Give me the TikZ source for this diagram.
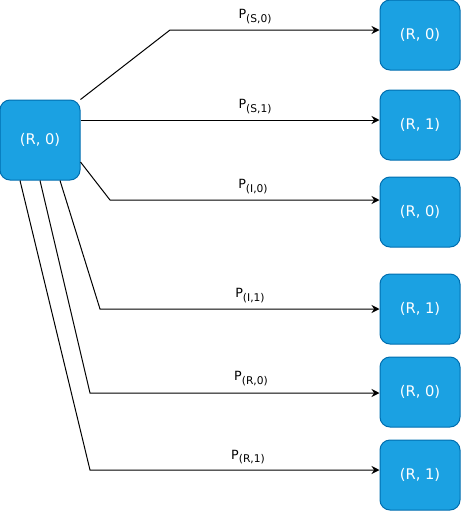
\documentclass[tikz,border=0pt]{standalone}
\usepackage{fontspec}
\setmainfont{DejaVu Sans}
\usepackage{xcolor}
\usepackage{tikz}
\usetikzlibrary{arrows.meta, calc}

\definecolor{stateblue}{HTML}{1BA1E2}
\definecolor{stateedge}{HTML}{006EAF}
\newcommand{\prb}[1]{P\raisebox{-2.5pt}{\fontsize{8}{9}\selectfont(#1)}}

\begin{document}
\begin{tikzpicture}[x=0.75pt, y=-0.75pt,
    state/.style={draw=stateedge, fill=stateblue, line width=0.75pt, rounded corners=7.5pt,
        text=white, minimum width=60pt, minimum height=52.5pt, inner sep=0pt,
        font=\fontsize{11}{13}\selectfont},
    prob/.style={anchor=south, inner sep=0pt, font=\fontsize{9.5}{11}\selectfont},
    trans/.style={-{Stealth[length=6pt, width=6pt, inset=2pt]}, line width=0.75pt}]
    \useasboundingbox (0,0) rectangle (461,511);
    % Start state
    \node[state, minimum height=60pt] (src) at (40,140) {(R, 0)};
    % Successor states
    \node[state] (t1) at (420,35) {(R, 0)};
    \node[state] (t2) at (420,125) {(R, 1)};
    \node[state] (t3) at (420,212) {(R, 0)};
    \node[state] (t4) at (420,309) {(R, 1)};
    \node[state] (t5) at (420,392) {(R, 0)};
    \node[state] (t6) at (420,475) {(R, 1)};
    % Bend points
    \coordinate (b1) at (170,30);
    \coordinate (b2) at ([yshift=15pt]src.east);
    \coordinate (b3) at (110,200);
    \coordinate (b4) at (100,309);
    \coordinate (b5) at (90,393);
    \coordinate (b6) at (90,470);
    % Transitions
    \draw[trans] (src.north east) -- (b1) -- (b1 -| t1.west);
    \draw[trans] (b2) -- (b2 -| t2.west);
    \draw[trans] ([yshift=-16.5pt]src.east) -- (b3) -- (b3 -| t3.west);
    \draw[trans] ([xshift=15pt]src.south) -- (b4) -- (b4 -| t4.west);
    \draw[trans] (src.south) -- (b5) -- (b5 -| t5.west);
    \draw[trans] ([xshift=-15pt]src.south) -- (b6) -- (b6 -| t6.west);
    % Probabilities
    \node[prob] (p1) at (255,24) {\prb{S,0}};
    \node[prob] (p2) at (255,114) {\prb{S,1}};
    \node[prob] (p3) at (253,194) {\prb{I,0}};
    \node[prob] (p4) at (250,303) {\prb{I,1}};
    \node[prob] (p5) at (251,386) {\prb{R,0}};
    \node[prob] (p6) at (248,464) {\prb{R,1}};
\end{tikzpicture}
\end{document}
